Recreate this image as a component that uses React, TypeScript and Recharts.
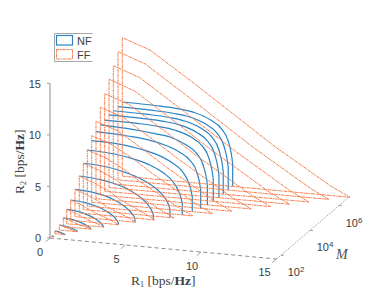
import React from 'react';
import { LineChart, Line, XAxis, YAxis, ReferenceDot } from 'recharts';

// log10(M) of each plane, lowest M first
const planeLogM = [1.807, 2.035, 2.331, 2.607, 2.842, 3.118, 3.414, 3.71, 3.987, 4.262, 4.566, 4.862, 5.16, 5.462, 5.76, 6.056, 6.38, 6.676];

const nfR1 = [
  [0, 0.05, 0.08, 0.1, 0.12, 0.14, 0.15, 0.15, 0.15],
  [0, 0.2, 0.33, 0.43, 0.53, 0.59, 0.63, 0.66, 0.66],
  [0, 0.36, 0.6, 0.77, 0.95, 1.07, 1.14, 1.19, 1.19],
  [0, 0.54, 0.91, 1.18, 1.45, 1.63, 1.74, 1.81, 1.81],
  [0, 0.73, 1.21, 1.57, 1.94, 2.18, 2.32, 2.42, 2.42],
  [0, 0.95, 1.58, 2.05, 2.52, 2.84, 3.02, 3.15, 3.15],
  [0, 1.19, 1.99, 2.58, 3.18, 3.57, 3.81, 3.97, 3.97],
  [0, 1.47, 2.45, 3.19, 3.92, 4.41, 4.7, 4.9, 4.9],
  [0, 1.72, 2.87, 3.73, 4.59, 5.17, 5.51, 5.74, 5.74],
  [0, 1.89, 3.15, 4.09, 5.03, 5.66, 6.04, 6.29, 6.29],
  [0, 2.0, 3.33, 4.33, 5.33, 5.99, 6.39, 6.66, 6.66],
  [0, 2.08, 3.47, 4.5, 5.54, 6.24, 6.65, 6.93, 6.93],
  [0, 2.13, 3.55, 4.61, 5.67, 6.38, 6.81, 7.09, 7.09],
  [0, 2.16, 3.6, 4.67, 5.75, 6.47, 6.9, 7.19, 7.19],
  [0, 2.18, 3.64, 4.73, 5.82, 6.55, 6.99, 7.28, 7.28],
  [0, 2.18, 3.64, 4.73, 5.82, 6.55, 6.99, 7.28, 7.28],
  [0, 2.19, 3.65, 4.75, 5.84, 6.57, 7.01, 7.3, 7.3],
  [0, 2.19, 3.66, 4.75, 5.85, 6.58, 7.02, 7.31, 7.31],
];

const nfR2 = [
  [0.05, 0.045, 0.04, 0.03, 0.02, 0.015, 0.01, 0.005, 0],
  [0.26, 0.23, 0.19, 0.15, 0.1, 0.07, 0.04, 0.01, 0],
  [0.49, 0.44, 0.37, 0.3, 0.21, 0.14, 0.08, 0.03, 0],
  [0.86, 0.77, 0.66, 0.55, 0.39, 0.26, 0.15, 0.05, 0],
  [1.4, 1.29, 1.12, 0.95, 0.7, 0.46, 0.28, 0.11, 0],
  [1.97, 1.85, 1.65, 1.42, 1.08, 0.75, 0.47, 0.2, 0],
  [2.65, 2.52, 2.28, 1.99, 1.54, 1.11, 0.74, 0.32, 0],
  [3.59, 3.41, 3.12, 2.76, 2.19, 1.62, 1.11, 0.5, 0],
  [4.49, 4.31, 3.95, 3.55, 2.92, 2.25, 1.62, 0.76, 0],
  [5.45, 5.29, 4.96, 4.58, 3.92, 3.16, 2.29, 1.09, 0],
  [6, 5.88, 5.58, 5.22, 4.56, 3.84, 2.88, 1.44, 0],
  [6.5, 6.37, 6.18, 5.85, 5.27, 4.55, 3.58, 1.76, 0],
  [6.8, 6.66, 6.46, 6.26, 5.64, 4.9, 3.81, 1.9, 0],
  [6.91, 6.88, 6.77, 6.56, 6.01, 5.25, 4.15, 2.07, 0],
  [7.05, 7.01, 6.91, 6.7, 6.13, 5.36, 4.23, 2.12, 0],
  [7.1, 7.06, 6.96, 6.75, 6.18, 5.4, 4.26, 2.13, 0],
  [7.1, 7.06, 6.96, 6.75, 6.18, 5.4, 4.26, 2.13, 0],
  [7.2, 7.16, 7.06, 6.84, 6.26, 5.47, 4.32, 2.16, 0],
];

const ffR1 = [
  [0, 0.03, 0.06, 0.09, 0.14, 0.16],
  [0, 0.12, 0.26, 0.37, 0.6, 0.68],
  [0, 0.22, 0.45, 0.65, 1.05, 1.2],
  [0, 0.35, 0.7, 1, 1.6, 1.85],
  [0, 0.45, 0.95, 1.3, 2.15, 2.45],
  [0, 0.6, 1.2, 1.7, 2.8, 3.2],
  [0, 0.75, 1.5, 2.1, 3.5, 4],
  [0, 0.9, 1.9, 2.6, 4.35, 5],
  [0, 1.05, 2.2, 3.1, 5.2, 6],
  [0, 1.2, 2.5, 3.5, 6.05, 7],
  [0, 1.3, 2.8, 4, 6.95, 8],
  [0, 1.4, 3.2, 4.6, 7.85, 9],
  [0, 1.5, 3.6, 5.2, 8.8, 10],
  [0, 1.6, 4, 6, 9.75, 10.99],
  [0, 1.7, 4.3, 6.97, 10.7, 11.97],
  [0, 1.75, 4.5, 7.96, 11.7, 12.96],
  [0, 1.8, 4.7, 8.97, 12.72, 13.97],
  [0, 1.83, 4.75, 10.05, 13.8, 15.08],
];

const ffR2 = [
  [0.05, 0.04, 0.03, 0.02, 0.01, 0],
  [0.26, 0.21, 0.14, 0.1, 0.03, 0],
  [0.49, 0.4, 0.28, 0.2, 0.06, 0],
  [0.86, 0.7, 0.5, 0.35, 0.12, 0],
  [1.4, 1.17, 0.87, 0.62, 0.2, 0],
  [1.97, 1.65, 1.25, 0.9, 0.28, 0],
  [2.65, 2.25, 1.75, 1.25, 0.4, 0],
  [3.59, 3.1, 2.45, 1.75, 0.52, 0],
  [4.49, 3.95, 3.15, 2.25, 0.6, 0],
  [5.45, 4.85, 3.85, 2.85, 0.68, 0],
  [6.47, 5.8, 4.55, 3.35, 0.75, 0],
  [7.5, 6.8, 5.15, 3.75, 0.82, 0],
  [8.51, 7.75, 5.75, 4.15, 0.88, 0],
  [9.47, 8.65, 6.35, 4.35, 0.9, 0],
  [10.51, 9.6, 7.05, 4.38, 0.93, 0],
  [11.48, 10.55, 7.85, 4.38, 0.93, 0],
  [12.45, 11.5, 8.65, 4.35, 0.93, 0],
  [13.45, 12.5, 9.66, 4.3, 0.92, 0],
];

const r1Ticks = [0, 5, 10, 15];
const r2Ticks = [0, 5, 10, 15];
const mTicks = [2, 4, 6];
const mMin = 1.69;
const mMax = 6.69;
const r1Max = 15;
const r2Max = 15;

const W = 388;
const H = 291;

// fixed camera of the original 3D view: (R1, R2, log10 M) to the page plane
const project = (r1: number, r2: number, m: number) => ({
  px: 50 + 15.1 * r1 + 14.5 * (m - mMin),
  py: 238 + 1.4 * r1 - 10.3 * r2 - 12.4 * (m - mMin),
});

const curve = (r1: number[], r2: number[], m: number) => r1.map((v, i) => project(v, r2[i], m));

// closed outline: up the plane's left edge, along the curve, back along the floor
const outline = (r1: number[], r2: number[], m: number) => [project(0, 0, m), ...curve(r1, r2, m), project(0, 0, m)];

const seg = (a: number[], b: number[]) => [project(a[0], a[1], a[2]), project(b[0], b[1], b[2])];

const tickFont = 'Liberation Sans, Arial, sans-serif';
const serif = 'Liberation Serif, Times New Roman, serif';

function label(key: string, r1: number, r2: number, m: number, dx: number, dy: number, text: React.ReactNode, anchor = 'middle') {
  const p = project(r1, r2, m);
  return (
    <ReferenceDot
      key={key}
      x={p.px}
      y={p.py}
      r={0}
      ifOverflow="visible"
      shape={(props: any) => (
        <text x={props.cx + dx} y={props.cy + dy} textAnchor={anchor} fontFamily={tickFont} fontSize={11} fill="#404040">
          {text}
        </text>
      )}
    />
  );
}

const thin = { dot: false, isAnimationActive: false, legendType: 'none' as const, activeDot: false };

export default function App() {
  return (
    <div style={{ position: 'absolute', left: 0, top: 0, width: W, height: H, background: '#fff' }}>
      <LineChart width={W} height={H} margin={{ top: 0, right: 0, bottom: 0, left: 0 }}>
        <XAxis type="number" dataKey="px" domain={[0, W]} hide />
        <YAxis type="number" domain={[0, H]} reversed hide />

        {/* axes */}
        <Line {...thin} data={seg([0, 0, mMin], [0, r2Max, mMin])} dataKey="py" stroke="#8c8c8c" strokeWidth={1} />
        <Line {...thin} data={seg([0, 0, mMin], [r1Max, 0, mMin])} dataKey="py" stroke="#6e6e6e" strokeWidth={0.8} strokeDasharray="4 3" />
        <Line {...thin} data={seg([r1Max, 0, mMin], [r1Max, 0, mMax])} dataKey="py" stroke="#8c8c8c" strokeWidth={0.7} strokeDasharray="2 1" />
        {r2Ticks.map((t) => (
          <Line {...thin} key={`r2t${t}`} data={seg([0, t, mMin], [-0.2, t, mMin])} dataKey="py" stroke="#8c8c8c" strokeWidth={0.8} />
        ))}
        {r1Ticks.map((t) => (
          <Line {...thin} key={`r1t${t}`} data={seg([t, 0, mMin], [t, 0, mMin - 0.3])} dataKey="py" stroke="#8c8c8c" strokeWidth={0.8} />
        ))}
        {mTicks.map((t) => (
          <Line {...thin} key={`mt${t}`} data={seg([r1Max, 0, t], [r1Max + 0.2, 0, t])} dataKey="py" stroke="#8c8c8c" strokeWidth={0.8} />
        ))}

        {/* NF curves */}
        {planeLogM.map((m, i) => (
          <Line {...thin} key={`nf${i}`} type="monotone" data={curve(nfR1[i], nfR2[i], m)} dataKey="py" stroke="#2a84c6" strokeWidth={1.2} />
        ))}
        {/* FF planes */}
        {planeLogM.map((m, i) => (
          <Line {...thin} key={`ff${i}`} data={outline(ffR1[i], ffR2[i], m)} dataKey="py" stroke="#f67c4c" strokeWidth={1} strokeDasharray="3 0.6 1.2 0.6" />
        ))}

        {r2Ticks.map((t) => label(`r2l${t}`, 0, t, mMin, -9, 4, t, 'end'))}
        {label('r1l0', 0, 0, mMin, -10, 18, 0)}
        {label('r1l5', 5, 0, mMin, -9, 18, 5)}
        {label('r1l10', 10, 0, mMin, -9, 18, 10)}
        {label('r1l15', 15, 0, mMin, -12, 17, 15)}
        {mTicks.map((t) =>
          label(
            `ml${t}`,
            r1Max,
            0,
            t,
            15,
            21,
            <>
              10
              <tspan dy={-4} fontSize={8}>{t}</tspan>
            </>,
          ),
        )}

        <ReferenceDot
          x={131}
          y={285}
          r={0}
          ifOverflow="visible"
          shape={(props: any) => (
            <text x={props.cx} y={props.cy} fontFamily={serif} fontSize={13.5} fill="#404040">
              R<tspan dy={2} fontSize={8}>1</tspan>
              <tspan dy={-2}> [bps/</tspan>
              <tspan fontWeight="bold">Hz</tspan>]
            </text>
          )}
        />
        <ReferenceDot
          x={24}
          y={194}
          r={0}
          ifOverflow="visible"
          shape={(props: any) => (
            <text transform={`translate(${props.cx},${props.cy}) rotate(-90)`} fontFamily={serif} fontSize={13.5} fill="#404040">
              R<tspan dy={2} fontSize={8}>2</tspan>
              <tspan dy={-2}> [bps/</tspan>
              <tspan fontWeight="bold">Hz</tspan>]
            </text>
          )}
        />
        <ReferenceDot
          x={336}
          y={259}
          r={0}
          ifOverflow="visible"
          shape={(props: any) => (
            <text x={props.cx} y={props.cy} fontFamily={serif} fontStyle="italic" fontSize={14} fill="#505050">
              M
            </text>
          )}
        />
      </LineChart>

      {/* legend box */}
      <svg width={W} height={H} style={{ position: 'absolute', left: 0, top: 0, pointerEvents: 'none' }}>
        <path d="M92.5 33.5H54.5V61.5H92.5" fill="#fff" stroke="#a6a6a6" strokeWidth={1} />
        <rect x={56.5} y={35.5} width={16} height={9.5} fill="#fff" stroke="#2a84c6" strokeWidth={1.2} />
        <rect x={56.5} y={49.5} width={16} height={9.5} fill="#fff" stroke="#f67c4c" strokeWidth={1} strokeDasharray="3 0.6 1.2 0.6" />
        <text x={77} y={45} fontFamily={tickFont} fontSize={11} fill="#404040">NF</text>
        <text x={77} y={58.5} fontFamily={tickFont} fontSize={11} fill="#404040">FF</text>
      </svg>
    </div>
  );
}
